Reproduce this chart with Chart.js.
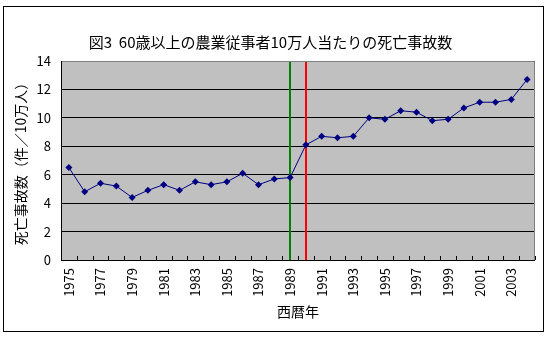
<!DOCTYPE html>
<html>
<head>
<meta charset="utf-8">
<script src="https://cdn.jsdelivr.net/npm/chart.js@4"></script>
<style>
  html, body { margin: 0; padding: 0; background: #fff; }
  #wrap { width: 551px; height: 338px; }
</style>
</head>
<body>
<div id="wrap"><canvas id="grafica" width="551" height="338"></canvas></div>
<script>
// 年（1975〜2004）
const anios = [];
for (let a = 1975; a <= 2004; a++) anios.push(String(a));
// 60歳以上の農業従事者10万人当たりの死亡事故数
const muertes = [6.5, 4.8, 5.4, 5.2, 4.4, 4.9, 5.3, 4.9, 5.5, 5.3,
                 5.5, 6.1, 5.3, 5.7, 5.8, 8.1, 8.7, 8.6, 8.7, 10.0,
                 9.9, 10.5, 10.4, 9.8, 9.9, 10.7, 11.1, 11.1, 11.3, 12.7];
const lineaVerde = '1989';
const lineaRoja = '1990';
const fuente = '"Noto Sans CJK JP", sans-serif';

// fondo gris del área de trazado y marco exterior
const fondo = {
  id: 'fondo',
  beforeDraw(chart) {
    const c = chart.ctx, a = chart.chartArea;
    c.save();
    c.fillStyle = '#fff';
    c.fillRect(0, 0, chart.width, chart.height);
    c.strokeStyle = '#000';
    c.lineWidth = 1;
    c.strokeRect(3.5, 6.5, 540, 325);
    c.fillStyle = '#c0c0c0';
    c.fillRect(a.left, a.top, a.right - a.left, a.bottom - a.top);
    c.restore();
  },
  afterDraw(chart) {
    const c = chart.ctx, a = chart.chartArea, x = chart.scales.x;
    c.save();
    c.lineWidth = 1;
    // borde gris arriba y a la derecha
    c.strokeStyle = '#808080';
    c.beginPath();
    c.moveTo(a.left, a.top + 0.5);
    c.lineTo(a.right - 0.5, a.top + 0.5);
    c.lineTo(a.right - 0.5, a.bottom);
    c.stroke();
    // ejes negros
    c.strokeStyle = '#000';
    c.beginPath();
    c.moveTo(a.left + 0.5, a.top);
    c.lineTo(a.left + 0.5, a.bottom + 0.5);
    c.lineTo(a.right, a.bottom + 0.5);
    c.stroke();
    // marcas del eje x hacia dentro, entre categorías
    const paso = x.getPixelForValue(1) - x.getPixelForValue(0);
    c.beginPath();
    for (let i = 0; i <= anios.length; i++) {
      const px = Math.round(x.getPixelForValue(i) - paso / 2) + 0.5;
      c.moveTo(px, a.bottom);
      c.lineTo(px, a.bottom - 4);
    }
    c.stroke();
    c.restore();
  }
};

// líneas verticales 1989 (verde) y 1990 (rojo)
const lineasAnio = {
  id: 'lineasAnio',
  beforeDatasetsDraw(chart) {
    const c = chart.ctx, a = chart.chartArea, x = chart.scales.x;
    c.save();
    c.lineWidth = 2;
    [[lineaVerde, '#008000'], [lineaRoja, '#ff0000']].forEach(([anio, color]) => {
      const px = Math.round(x.getPixelForValue(anios.indexOf(anio)));
      c.strokeStyle = color;
      c.beginPath();
      c.moveTo(px, a.top);
      c.lineTo(px, a.bottom);
      c.stroke();
    });
    c.restore();
  }
};

new Chart(document.getElementById('grafica').getContext('2d'), {
  type: 'line',
  data: {
    labels: anios,
    datasets: [{
      data: muertes,
      borderColor: '#000080',
      backgroundColor: '#000080',
      borderWidth: 1,
      pointStyle: 'rectRot',
      pointRadius: 3.5,
      pointBorderWidth: 0,
      tension: 0
    }]
  },
  options: {
    responsive: false,
    animation: false,
    layout: { padding: { left: 6, right: 16, top: 0, bottom: 0 } },
    plugins: {
      legend: { display: false },
      tooltip: { enabled: false },
      title: {
        display: true,
        text: '図3  60歳以上の農業従事者10万人当たりの死亡事故数',
        color: '#000',
        font: { family: fuente, size: 15, weight: 'normal', lineHeight: 1.2 },
        padding: { top: 33, bottom: 10 }
      }
    },
    scales: {
      x: {
        offset: true,
        grid: { offset: true, drawOnChartArea: false, drawTicks: false },
        border: { display: false },
        afterFit: s => { s.height = 78; },
        ticks: {
          autoSkip: false,
          maxRotation: 90,
          minRotation: 90,
          color: '#000',
          font: { family: fuente, size: 13 },
          padding: 8,
          callback: (v, i) => (i % 2 === 0 ? anios[i] : '')
        },
        title: {
          display: true,
          text: '西暦年',
          color: '#000',
          font: { family: fuente, size: 14 },
          padding: { top: 0, bottom: 18 }
        }
      },
      y: {
        min: 0,
        max: 14,
        grid: { color: '#000', drawTicks: false },
        border: { display: false },
        afterFit: s => { s.width = 55; },
        ticks: {
          stepSize: 2,
          color: '#000',
          font: { family: fuente, size: 13 },
          padding: 10
        },
        title: {
          display: true,
          text: '死亡事故数（件／10万人）',
          color: '#000',
          font: { family: fuente, size: 14 },
          padding: { top: 6, bottom: 0 }
        }
      }
    }
  },
  plugins: [fondo, lineasAnio]
});
</script>
</body>
</html>
